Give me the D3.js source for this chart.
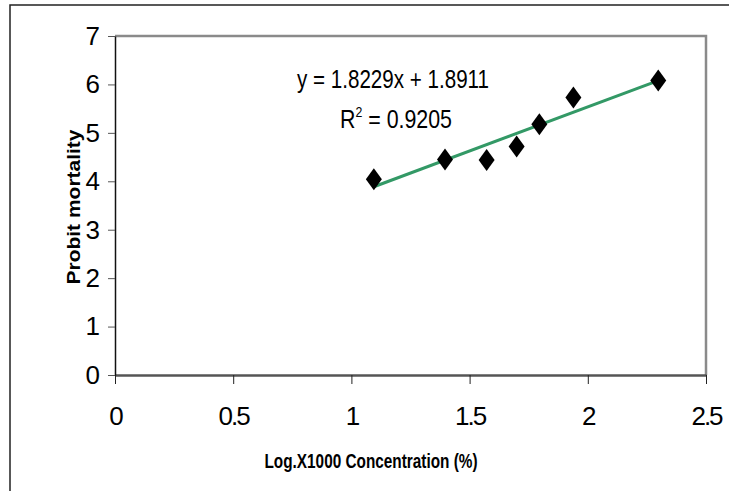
<!DOCTYPE html>
<html>
<head>
<meta charset="utf-8">
<script src="https://cdn.jsdelivr.net/npm/d3@7"></script>
<style>
  body { margin: 0; background: #fff; }
  text { font-family: "Liberation Sans", Arial, sans-serif; fill: #000; }
</style>
</head>
<body>
<div id="chart"></div>
<script>
// Messpunkte
const logConc = [1.095, 1.396, 1.572, 1.699, 1.795, 1.939, 2.298];
const probit = [4.04, 4.45, 4.44, 4.72, 5.18, 5.73, 6.08];
// Regressionsgerade wie im Diagramm angegeben
const slope = 1.8229;
const intercept = 1.8911;
const rSquared = 0.9205;
const xTicks = [0, 0.5, 1, 1.5, 2, 2.5];
const yTicks = [0, 1, 2, 3, 4, 5, 6, 7];

const width = 729, height = 491;
const margin = { top: 36, right: 23, bottom: 116, left: 115 };
const innerWidth = width - margin.left - margin.right;
const innerHeight = height - margin.top - margin.bottom;

const svg = d3.select("#chart")
  .append("svg")
  .attr("width", width)
  .attr("height", height);

// äußerer Rahmen (rechts/unten abgeschnitten)
svg.append("rect")
  .attr("x", 10).attr("y", 5)
  .attr("width", 740).attr("height", 500)
  .attr("fill", "none")
  .attr("stroke", "#222")
  .attr("stroke-width", 1.5);

const xScale = d3.scaleLinear().domain([0, 2.5]).range([0, innerWidth]);
const yScale = d3.scaleLinear().domain([0, 7]).range([innerHeight, 0]);

const innerChart = svg.append("g")
  .attr("transform", `translate(${margin.left}, ${margin.top})`);

// graue Linien oben und rechts
innerChart.append("path")
  .attr("d", `M0,0H${innerWidth}V${innerHeight}`)
  .attr("fill", "none")
  .attr("stroke", "#8a8a8a")
  .attr("stroke-width", 2.5);

const bottomAxis = d3.axisBottom(xScale)
  .tickValues(xTicks)
  .tickSizeInner(9)
  .tickSizeOuter(0)
  .tickPadding(23)
  .tickFormat(d3.format("~g"));

const xAxisG = innerChart.append("g")
  .attr("transform", `translate(0, ${innerHeight})`)
  .call(bottomAxis);
xAxisG.select(".domain").attr("stroke", "#555").attr("stroke-width", 2.5);
xAxisG.selectAll(".tick line").attr("stroke", "#222");
xAxisG.selectAll("text")
  .attr("font-size", 26)
  .attr("letter-spacing", -2)
  .attr("font-family", "Liberation Sans, Arial, sans-serif");

const leftAxis = d3.axisLeft(yScale)
  .tickValues(yTicks)
  .tickSizeInner(7)
  .tickSizeOuter(0)
  .tickPadding(8)
  .tickFormat(d3.format("d"));

const yAxisG = innerChart.append("g").call(leftAxis);
yAxisG.select(".domain").attr("stroke", "#111").attr("stroke-width", 1.5);
yAxisG.selectAll(".tick line").attr("stroke", "#555");
yAxisG.selectAll("text")
  .attr("font-size", 26)
  .attr("font-family", "Liberation Sans, Arial, sans-serif");

// Trendlinie
const xMin = d3.min(logConc), xMax = d3.max(logConc);
innerChart.append("line")
  .attr("x1", xScale(xMin)).attr("y1", yScale(slope * xMin + intercept))
  .attr("x2", xScale(xMax)).attr("y2", yScale(slope * xMax + intercept))
  .attr("stroke", "#339966")
  .attr("stroke-width", 3);

// Rauten-Marker
const points = logConc.map((x, i) => ({ x, y: probit[i] }));
innerChart.append("g")
  .selectAll("path")
  .data(points)
  .join("path")
  .attr("d", "M0,-11L8,0L0,11L-8,0Z")
  .attr("transform", d => `translate(${xScale(d.x)}, ${yScale(d.y)})`)
  .attr("fill", "#000");

// Gleichung
svg.append("text")
  .attr("x", 297).attr("y", 88)
  .attr("font-size", 26)
  .attr("textLength", 192)
  .attr("lengthAdjust", "spacingAndGlyphs")
  .text(`y = ${slope}x + ${intercept}`);

const r2 = svg.append("text")
  .attr("x", 340).attr("y", 128)
  .attr("font-size", 26)
  .attr("textLength", 112)
  .attr("lengthAdjust", "spacingAndGlyphs");
r2.append("tspan").text("R");
r2.append("tspan").attr("font-size", 15).attr("dy", -11).text("2");
r2.append("tspan").attr("dy", 11).text(` = ${rSquared}`);

// Achsentitel
svg.append("text")
  .attr("x", 371).attr("y", 468)
  .attr("text-anchor", "middle")
  .attr("font-size", 20)
  .attr("font-weight", "bold")
  .attr("textLength", 213)
  .attr("lengthAdjust", "spacingAndGlyphs")
  .text("Log.X1000 Concentration (%)");

svg.append("text")
  .attr("transform", "translate(80, 207) rotate(-90)")
  .attr("text-anchor", "middle")
  .attr("font-size", 19)
  .attr("font-weight", "bold")
  .attr("textLength", 155)
  .attr("lengthAdjust", "spacingAndGlyphs")
  .text("Probit mortality");
</script>
</body>
</html>
